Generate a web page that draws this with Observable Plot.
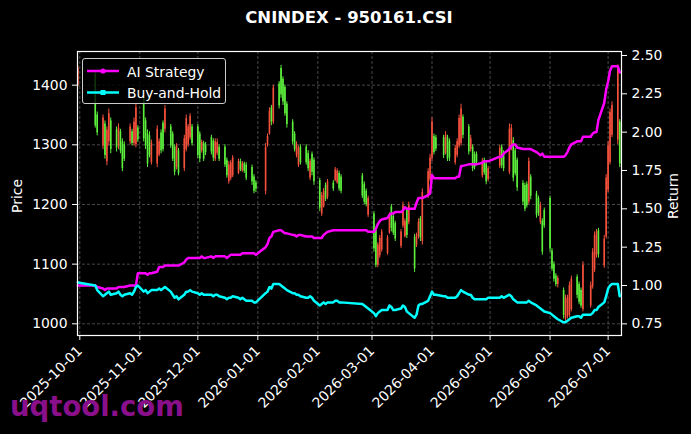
<!DOCTYPE html>
<html><head><meta charset="utf-8">
<script src="https://cdn.jsdelivr.net/npm/d3@7"></script>
<script src="https://cdn.jsdelivr.net/npm/@observablehq/plot@0.6"></script>
<style>
html,body{margin:0;padding:0;background:#000;}
#wrap{position:relative;width:691px;height:434px;background:#000;overflow:hidden;font-family:"DejaVu Sans",sans-serif;color:#fff;}
#chart{position:absolute;left:0;top:0;}
#title{position:absolute;left:0;width:698px;top:8px;text-align:center;font-weight:bold;font-size:16.5px;line-height:20px;}
.alab{position:absolute;white-space:nowrap;font-size:13.9px;transform:translate(-50%,-50%) rotate(-90deg);}
#legend{position:absolute;left:82px;top:58px;width:144px;height:46px;box-sizing:border-box;border:1px solid #cccccc;border-radius:3px;background:rgba(0,0,0,0.8);}
#legend .row{position:absolute;left:0;height:20px;width:140px;}
#legend svg{position:absolute;left:3px;top:0;}
#legend span{position:absolute;left:44px;top:1px;font-size:13.9px;line-height:18px;white-space:nowrap;}
#wm{position:absolute;left:10px;top:393px;font-size:27.5px;font-weight:bold;line-height:1;color:#8a0f8a;white-space:nowrap;}
</style></head>
<body>
<div id="wrap">
  <div id="chart"></div>
  <div id="title">CNINDEX - 950161.CSI</div>
  <div class="alab" style="left:17px;top:196px;">Price</div>
  <div class="alab" style="left:673px;top:196px;">Return</div>
  <div id="legend">
    <div class="row" style="top:3px;"><svg width="34" height="20"><line x1="1" y1="9" x2="33" y2="9" stroke="#ff00ff" stroke-width="2.5"/><circle cx="17" cy="9" r="2.6" fill="#ff00ff"/></svg><span>AI Strategy</span></div>
    <div class="row" style="top:24px;"><svg width="34" height="20"><line x1="1" y1="9.5" x2="33" y2="9.5" stroke="#00ffff" stroke-width="2.5"/><rect x="14.5" y="7" width="5" height="5" fill="#00ffff"/></svg><span>Buy-and-Hold</span></div>
  </div>
  <div id="wm">uqtool.com</div>
</div>
<script>
const dates = [
"2025-09-30",
"2025-10-09","2025-10-10","2025-10-13","2025-10-14","2025-10-15","2025-10-16","2025-10-17","2025-10-20","2025-10-21","2025-10-22","2025-10-23","2025-10-24","2025-10-27","2025-10-28","2025-10-29","2025-10-30","2025-10-31",
"2025-11-03","2025-11-04","2025-11-05","2025-11-06","2025-11-07","2025-11-10","2025-11-11","2025-11-12","2025-11-13","2025-11-14","2025-11-17","2025-11-18","2025-11-19","2025-11-20","2025-11-21","2025-11-24","2025-11-25","2025-11-26","2025-11-27","2025-11-28",
"2025-12-01","2025-12-02","2025-12-03","2025-12-04","2025-12-05","2025-12-08","2025-12-09","2025-12-10","2025-12-11","2025-12-12","2025-12-15","2025-12-16","2025-12-17","2025-12-18","2025-12-19","2025-12-22","2025-12-23","2025-12-24","2025-12-25","2025-12-26","2025-12-29","2025-12-30","2025-12-31",
"2026-01-05","2026-01-06","2026-01-07","2026-01-08","2026-01-09","2026-01-12","2026-01-13","2026-01-14","2026-01-15","2026-01-16","2026-01-19","2026-01-20","2026-01-21","2026-01-22","2026-01-23","2026-01-26","2026-01-27","2026-01-28","2026-01-29","2026-01-30",
"2026-02-02","2026-02-03","2026-02-04","2026-02-05","2026-02-06","2026-02-09","2026-02-10","2026-02-11","2026-02-12","2026-02-13","2026-02-24","2026-02-25","2026-02-26","2026-02-27",
"2026-03-02","2026-03-03","2026-03-04","2026-03-05","2026-03-06","2026-03-09","2026-03-10","2026-03-11","2026-03-12","2026-03-13","2026-03-16","2026-03-17","2026-03-18","2026-03-19","2026-03-20","2026-03-23","2026-03-24","2026-03-25","2026-03-26","2026-03-27","2026-03-30","2026-03-31",
"2026-04-01","2026-04-02","2026-04-03","2026-04-07","2026-04-08","2026-04-09","2026-04-10","2026-04-13","2026-04-14","2026-04-15","2026-04-16","2026-04-17","2026-04-20","2026-04-21","2026-04-22","2026-04-23","2026-04-24","2026-04-27","2026-04-28","2026-04-29","2026-04-30",
"2026-05-06","2026-05-07","2026-05-08","2026-05-11","2026-05-12","2026-05-13","2026-05-14","2026-05-15","2026-05-18","2026-05-19","2026-05-20","2026-05-21","2026-05-22","2026-05-25","2026-05-26","2026-05-27","2026-05-28","2026-05-29",
"2026-06-01","2026-06-02","2026-06-03","2026-06-04","2026-06-05","2026-06-08","2026-06-09","2026-06-10","2026-06-11","2026-06-12","2026-06-15","2026-06-16","2026-06-17","2026-06-18","2026-06-22","2026-06-23","2026-06-24","2026-06-25","2026-06-26","2026-06-29","2026-06-30",
"2026-07-01","2026-07-02","2026-07-03","2026-07-06","2026-07-07"
];
const open = [
1400,
1418,1350,1298,1335,1272,1305,1340,1325,1298,1322,1305,1300,1305,1322,1302,1300,1328,
1378,1340,1318,1315,1270,1268,1283,1320,1336,1326,1330,1318,1296,1262,1290,1260,1292,1300,1312,1330,
1330,1318,1290,1302,1300,1312,1306,1276,1286,1296,1296,1274,1238,1244,1248,1252,1272,1256,1268,1266,1262,1246,1236,
1222,1300,1318,1362,1338,1402,1428,1410,1396,1368,1338,1318,1282,1266,1296,1296,1285,1244,1284,1274,
1240,1184,1196,1232,1212,1236,1240,1236,1252,1246,1248,1234,1222,1182,
1184,1156,1098,1114,1124,1118,1152,1196,1180,1168,1130,1164,1146,1190,1170,1145,1132,1146,1176,1138,1214,1242,
1278,1314,1312,1312,1286,1312,1306,1270,1282,1298,1302,1346,1330,1292,1296,1284,1284,1248,1274,1268,1242,
1264,1296,1285,1254,1292,1307,1290,1274,1235,1232,1234,1204,1246,1218,1210,1170,1172,1190,
1210,1122,1100,1080,1066,1056,1008,1012,1014,1024,1078,1066,1056,1024,1030,1062,1090,1114,1156,1097,1146,
1224,1270,1316,1308,1338
];
const high = [
1432,
1422,1355,1350,1340,1330,1360,1345,1330,1335,1326,1310,1305,1335,1326,1345,1368,1332,
1385,1345,1325,1322,1308,1332,1310,1325,1340,1366,1334,1322,1300,1302,1294,1316,1350,1334,1352,1334,
1334,1322,1308,1306,1304,1316,1310,1310,1310,1300,1300,1278,1272,1274,1282,1276,1276,1272,1271,1270,1266,1250,1240,
1302,1318,1362,1366,1400,1406,1433,1414,1400,1372,1342,1322,1305,1298,1300,1300,1290,1276,1288,1278,
1244,1220,1227,1236,1242,1240,1262,1260,1256,1250,1252,1238,1226,1214,
1188,1160,1136,1148,1158,1148,1186,1200,1184,1172,1158,1204,1176,1194,1204,1150,1152,1176,1180,1226,1260,1284,
1345,1318,1316,1316,1322,1316,1310,1299,1310,1350,1368,1350,1334,1316,1300,1288,1288,1277,1278,1272,1264,
1299,1300,1290,1335,1334,1312,1294,1278,1240,1236,1238,1278,1250,1222,1214,1204,1176,1194,
1214,1126,1104,1084,1080,1060,1048,1048,1070,1080,1082,1070,1060,1104,1070,1126,1154,1158,1160,1148,1250,
1306,1360,1372,1434,1342
];
const low = [
1397,
1328,1315,1292,1276,1265,1298,1285,1288,1292,1285,1255,1272,1300,1298,1298,1295,1304,
1305,1292,1262,1278,1266,1262,1280,1285,1288,1320,1294,1272,1248,1258,1248,1255,1288,1296,1308,1298,
1277,1270,1286,1272,1282,1283,1272,1272,1282,1272,1262,1244,1234,1240,1245,1250,1255,1254,1252,1240,1232,1218,1220,
1216,1296,1316,1332,1334,1360,1378,1366,1348,1328,1300,1288,1278,1262,1266,1266,1255,1240,1248,1232,
1188,1180,1194,1205,1208,1222,1238,1234,1222,1218,1210,1200,1196,1178,
1120,1094,1094,1110,1120,1115,1150,1154,1148,1138,1126,1160,1144,1143,1166,1086,1128,1142,1138,1132,1210,1238,
1272,1283,1289,1277,1283,1272,1272,1266,1278,1294,1298,1310,1283,1288,1255,1258,1265,1244,1249,1233,1238,
1260,1260,1255,1250,1290,1238,1248,1222,1198,1188,1194,1200,1208,1177,1180,1166,1115,1160,
1120,1088,1070,1062,1060,1008,1004,1008,1010,1020,1042,1032,1026,1020,1026,1058,1086,1110,1110,1093,1142,
1220,1266,1312,1300,1262
];
const close = [
1428,
1332,1320,1345,1282,1325,1352,1292,1295,1328,1290,1260,1276,1330,1302,1338,1362,1308,
1310,1298,1268,1282,1303,1326,1305,1290,1292,1360,1298,1276,1254,1298,1252,1310,1344,1330,1348,1302,
1282,1276,1304,1276,1287,1288,1278,1305,1304,1276,1266,1248,1266,1270,1278,1272,1258,1269,1256,1244,1238,1222,1226,
1296,1314,1356,1338,1395,1365,1384,1372,1352,1334,1305,1292,1300,1294,1270,1270,1260,1272,1254,1238,
1194,1215,1222,1209,1238,1226,1258,1256,1226,1222,1214,1204,1200,1210,
1126,1098,1132,1143,1154,1144,1182,1160,1152,1142,1154,1198,1172,1148,1198,1092,1148,1170,1144,1220,1255,1278,
1338,1287,1293,1282,1316,1276,1278,1294,1305,1344,1360,1316,1288,1310,1260,1262,1270,1272,1253,1238,1260,
1294,1265,1260,1326,1328,1244,1252,1228,1204,1192,1198,1272,1214,1182,1185,1198,1120,1164,
1126,1092,1075,1066,1076,1014,1042,1044,1064,1075,1048,1036,1030,1098,1064,1120,1148,1154,1116,1142,1244,
1298,1354,1366,1425,1268
];
const aiStrategy = [
1.00,
1.00,0.99,0.98,0.97,0.98,0.98,0.98,0.98,0.99,0.99,0.99,0.99,1.00,1.00,1.00,1.00,1.08,
1.08,1.08,1.07,1.08,1.08,1.09,1.12,1.12,1.12,1.13,1.13,1.13,1.13,1.13,1.13,1.15,1.17,1.18,1.18,1.18,
1.18,1.18,1.19,1.18,1.18,1.19,1.18,1.19,1.19,1.19,1.19,1.18,1.19,1.20,1.20,1.20,1.20,1.21,1.21,1.21,1.21,1.21,1.20,
1.25,1.27,1.31,1.32,1.35,1.36,1.36,1.35,1.34,1.34,1.33,1.33,1.32,1.33,1.33,1.32,1.32,1.32,1.32,1.31,
1.31,1.31,1.33,1.34,1.35,1.36,1.36,1.36,1.36,1.36,1.36,1.36,1.36,1.35,
1.35,1.37,1.40,1.42,1.43,1.44,1.46,1.47,1.47,1.48,1.48,1.49,1.51,1.50,1.50,1.50,1.54,1.57,1.57,1.57,1.59,1.60,
1.72,1.70,1.70,1.70,1.70,1.70,1.70,1.70,1.71,1.71,1.78,1.78,1.79,1.79,1.79,1.79,1.79,1.80,1.81,1.81,1.81,
1.84,1.84,1.86,1.89,1.91,1.92,1.92,1.90,1.89,1.89,1.89,1.89,1.89,1.87,1.86,1.85,1.86,1.84,
1.84,1.84,1.84,1.84,1.84,1.84,1.85,1.87,1.90,1.92,1.94,1.94,1.94,1.97,1.97,1.99,2.00,2.00,2.08,2.19,2.28,
2.33,2.40,2.43,2.43,2.39
];
const buyHold = [
1.02,
1.00,0.97,0.93,0.94,0.95,0.96,0.94,0.95,0.96,0.94,0.93,0.94,0.95,0.94,0.96,0.99,1.00,
0.96,0.97,0.95,0.96,0.97,0.97,0.98,0.97,0.98,0.99,0.96,0.94,0.92,0.93,0.91,0.94,0.96,0.96,0.97,0.96,
0.95,0.94,0.95,0.94,0.94,0.94,0.93,0.94,0.94,0.93,0.92,0.91,0.92,0.92,0.93,0.92,0.91,0.92,0.91,0.90,0.90,0.89,0.89,
0.95,0.96,0.99,0.98,1.01,1.01,1.00,0.99,0.98,0.97,0.95,0.95,0.94,0.94,0.93,0.92,0.92,0.93,0.92,0.90,
0.87,0.88,0.89,0.88,0.89,0.89,0.90,0.90,0.89,0.89,0.88,0.87,0.86,0.85,
0.82,0.80,0.82,0.83,0.84,0.84,0.87,0.86,0.84,0.84,0.85,0.87,0.86,0.83,0.82,0.79,0.81,0.87,0.88,0.88,0.90,0.93,
0.96,0.94,0.94,0.93,0.93,0.92,0.92,0.92,0.93,0.95,0.97,0.96,0.94,0.94,0.92,0.91,0.91,0.91,0.91,0.91,0.92,
0.92,0.93,0.92,0.94,0.93,0.91,0.90,0.89,0.89,0.89,0.89,0.90,0.89,0.87,0.86,0.85,0.84,0.83,
0.82,0.81,0.80,0.79,0.78,0.76,0.76,0.77,0.78,0.79,0.80,0.80,0.79,0.81,0.81,0.82,0.84,0.84,0.86,0.89,0.93,
0.98,1.00,1.01,1.01,0.93
];
const priceTicks = [1000, 1100, 1200, 1300, 1400];
const returnTicks = [0.75, 1.00, 1.25, 1.50, 1.75, 2.00, 2.25, 2.50];
const monthTicks = ["2025-10-01","2025-11-01","2025-12-01","2026-01-01","2026-02-01","2026-03-01","2026-04-01","2026-05-01","2026-06-01","2026-07-01"];

const UP = "#f5503c", DOWN = "#5cf03c";
const P0 = 980.4, P1 = 1456.4, R0 = 0.674, R1 = 2.526;
const toP = r => P0 + (r - R0) * (P1 - P0) / (R1 - R0);
const fromP = p => R0 + (p - P0) * (R1 - R0) / (P1 - P0);

const rows = dates.map((d, i) => ({
  date: new Date(d), o: open[i], h: high[i], l: low[i], c: close[i],
  ai: toP(aiStrategy[i]), bh: toP(buyHold[i]),
  col: close[i] >= open[i] ? UP : DOWN
}));
const xTicks = monthTicks.map(d => new Date(d));
const fmt = d3.utcFormat("%Y-%m-%d");

const chart = Plot.plot({
  width: 691, height: 434,
  marginTop: 51, marginBottom: 99, marginLeft: 77, marginRight: 70,
  style: {background: "#000", color: "#fff", fontFamily: "DejaVu Sans", fontSize: "13.9px"},
  x: {type: "utc", domain: [new Date("2025-09-29T19:30:00Z"), new Date("2026-07-07T22:00:00Z")]},
  y: {domain: [P0, P1]},
  color: {type: "identity"},
  marks: [
    Plot.gridX(xTicks, {stroke: "#5a5a5a", strokeOpacity: 1, strokeWidth: 0.8, strokeDasharray: "3,2"}),
    Plot.gridY(priceTicks, {stroke: "#5a5a5a", strokeOpacity: 1, strokeWidth: 0.8, strokeDasharray: "3,2"}),
    Plot.ruleX(rows, {x: "date", y1: "l", y2: "h", stroke: "col", strokeWidth: 1}),
    Plot.ruleX(rows, {x: "date", y1: "o", y2: "c", stroke: "col", strokeWidth: 1.6}),
    Plot.line(rows, {x: "date", y: "ai", stroke: "#ff00ff", strokeWidth: 2.5}),
    Plot.line(rows, {x: "date", y: "bh", stroke: "#00ffff", strokeWidth: 2.5}),
    Plot.frame({stroke: "#fff", strokeWidth: 1.2}),
    Plot.axisX(xTicks, {tickFormat: fmt, tickRotate: -45, tickSize: 5, tickPadding: 8, label: null}),
    Plot.axisY(priceTicks, {anchor: "left", tickSize: 5, tickPadding: 5, label: null, tickFormat: d => String(d)}),
    Plot.axisY(returnTicks.map(toP), {anchor: "right", tickSize: 5, tickPadding: 5, label: null, tickFormat: d => fromP(d).toFixed(2)})
  ]
});
document.getElementById("chart").appendChild(chart);
</script>
</body></html>
